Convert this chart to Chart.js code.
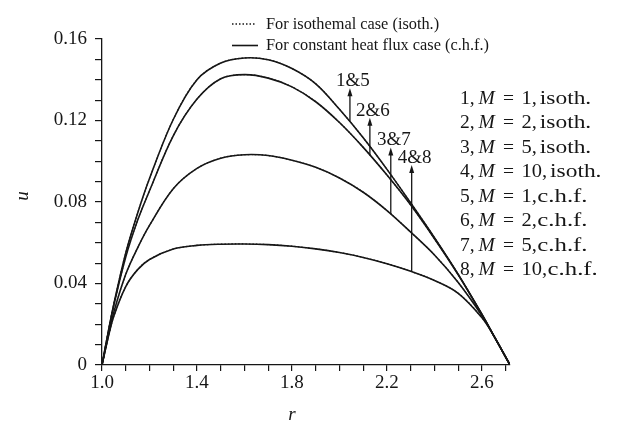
<!DOCTYPE html>
<html>
<head>
<meta charset="utf-8">
<script src="https://cdn.jsdelivr.net/npm/chart.js@4.4.1/dist/chart.umd.min.js"></script>
<style>
  html, body { margin: 0; padding: 0; background: #fff; }
</style>
</head>
<body>
<canvas id="myChart" width="617" height="426"></canvas>
<script>
// radial position r (1 .. e) and velocity u for each Hartmann number
const rValues = [1.0, 1.025, 1.05, 1.1, 1.15, 1.2, 1.3, 1.4, 1.5, 1.6, 1.7, 1.8, 1.9, 2.0, 2.1, 2.2, 2.3, 2.4, 2.5, 2.6, 2.65, 2.718];
const uM1 = [0, 0.0155, 0.030, 0.055, 0.0745, 0.0915, 0.1205, 0.1400, 0.1482, 0.1507, 0.1498, 0.1455, 0.1380, 0.1255, 0.1115, 0.0960, 0.0795, 0.0625, 0.0445, 0.0248, 0.0143, 0];
const uM2 = [0, 0.0152, 0.0295, 0.053, 0.071, 0.0855, 0.1125, 0.1305, 0.1405, 0.1425, 0.1408, 0.1365, 0.1292, 0.1190, 0.1068, 0.0932, 0.0785, 0.0620, 0.0443, 0.0248, 0.0143, 0];
const uM5 = [0, 0.0135, 0.026, 0.0445, 0.0575, 0.0685, 0.0865, 0.0965, 0.1015, 0.1032, 0.1028, 0.1005, 0.0970, 0.0918, 0.0848, 0.0758, 0.0652, 0.0540, 0.0405, 0.0242, 0.0143, 0];
const uM10 = [0, 0.0130, 0.0240, 0.0385, 0.0468, 0.0518, 0.0569, 0.0587, 0.0593, 0.0594, 0.0591, 0.0583, 0.0570, 0.0552, 0.0528, 0.0497, 0.0460, 0.0415, 0.0352, 0.0232, 0.0143, 0];

const hartmann = [1, 2, 5, 10];
const seriesU = [uM1, uM2, uM5, uM10];
const caseNames = ['isoth.', 'c.h.f.'];

const xTickLabels = ['1.0', '1.4', '1.8', '2.2', '2.6'];
const yTickLabels = ['0', '0.04', '0.08', '0.12', '0.16'];

// arrows pointing at each pair of curves
const arrowLabels = ['1&5', '2&6', '3&7', '4&8'];
const arrowR = [2.044, 2.128, 2.216, 2.304];
const arrowTopU = [0.1358, 0.1214, 0.1068, 0.0982];

const serif = "'Liberation Serif', 'Times New Roman', serif";
const ink = '#161616';

function valueAt(series, r) {
  for (let i = 1; i < rValues.length; i++) {
    if (r <= rValues[i]) {
      const t = (r - rValues[i - 1]) / (rValues[i] - rValues[i - 1]);
      return series[i - 1] + t * (series[i] - series[i - 1]);
    }
  }
  return series[series.length - 1];
}

const datasets = [];
seriesU.forEach((u, i) => {
  datasets.push({
    label: (i + 5) + ', M = ' + hartmann[i] + ', ' + caseNames[1],
    data: rValues.map((r, k) => ({ x: r, y: u[k] })),
    borderColor: ink,
    borderWidth: 1.6
  });
  datasets.push({
    label: (i + 1) + ', M = ' + hartmann[i] + ', ' + caseNames[0],
    data: rValues.map((r, k) => ({ x: r, y: u[k] })),
    borderColor: ink,
    borderWidth: 1.2,
    borderDash: [1.5, 2]
  });
});

// text drawn wider than the font, as in the original figure
function wideText(ctx, text, x, y, sx) {
  ctx.save();
  ctx.translate(x, y);
  ctx.scale(sx, 1);
  ctx.fillText(text, 0, 0);
  ctx.restore();
  return ctx.measureText(text).width * sx;
}

const annotations = {
  id: 'annotations',
  afterDraw(chart) {
    const { ctx, scales: { x, y } } = chart;
    ctx.save();
    ctx.fillStyle = ink;
    ctx.strokeStyle = ink;

    // arrows + labels
    arrowLabels.forEach((label, i) => {
      const px = x.getPixelForValue(arrowR[i]);
      const yBase = y.getPixelForValue(valueAt(seriesU[i], arrowR[i]));
      const yTip = y.getPixelForValue(arrowTopU[i]);
      ctx.lineWidth = 1.3;
      ctx.beginPath();
      ctx.moveTo(px, yBase);
      ctx.lineTo(px, yTip + 6);
      ctx.stroke();
      ctx.beginPath();
      ctx.moveTo(px, yTip);
      ctx.lineTo(px - 2.5, yTip + 8);
      ctx.lineTo(px + 2.5, yTip + 8);
      ctx.closePath();
      ctx.fill();
      ctx.font = '19px ' + serif;
      ctx.textAlign = 'center';
      ctx.textBaseline = 'alphabetic';
      ctx.fillText(label, px + 3, yTip - 2);
    });

    // axis titles
    ctx.font = 'italic 19px ' + serif;
    ctx.textAlign = 'center';
    ctx.textBaseline = 'middle';
    ctx.fillText('r', 292, 415);
    ctx.save();
    ctx.translate(23, 196);
    ctx.rotate(-Math.PI / 2);
    ctx.fillText('u', 0, 0);
    ctx.restore();

    // top legend: line styles
    ctx.textAlign = 'left';
    ctx.textBaseline = 'alphabetic';
    ctx.lineWidth = 1.4;
    ctx.setLineDash([1.5, 2]);
    ctx.beginPath();
    ctx.moveTo(232, 24);
    ctx.lineTo(256, 24);
    ctx.stroke();
    ctx.setLineDash([]);
    ctx.lineWidth = 1.6;
    ctx.beginPath();
    ctx.moveTo(232, 45.5);
    ctx.lineTo(258, 45.5);
    ctx.stroke();
    ctx.font = '17px ' + serif;
    wideText(ctx, 'For isothemal case (isoth.)', 266, 29, 0.96);
    wideText(ctx, 'For constant heat flux case (c.h.f.)', 266, 49.5, 0.96);

    // right legend: curve numbers
    ctx.textBaseline = 'middle';
    for (let k = 0; k < 8; k++) {
      const m = hartmann[k % 4];
      const caseName = caseNames[k < 4 ? 0 : 1];
      const yy = 98.5 + k * 24.5;
      ctx.font = '19.5px ' + serif;
      ctx.fillText((k + 1) + ',', 460, yy);
      ctx.font = 'italic 19.5px ' + serif;
      ctx.fillText('M', 478.5, yy);
      ctx.font = '19.5px ' + serif;
      ctx.fillText('=', 503, yy);
      let xx = 521.5;
      xx += wideText(ctx, m + ',', xx, yy, 1.05);
      xx += k < 4 ? 3 : 0.5;
      wideText(ctx, caseName, xx, yy, k < 4 ? 1.2 : 1.27);
    }
    ctx.restore();
  }
};

const ctx = document.getElementById('myChart').getContext('2d');
const chart = new Chart(ctx, {
  type: 'line',
  data: { datasets: datasets },
  options: {
    responsive: false,
    animation: false,
    events: [],
    layout: { padding: { top: 39, right: 107, bottom: 0, left: 0 } },
    elements: {
      point: { radius: 0 },
      line: { tension: 0.35, fill: false }
    },
    plugins: {
      legend: { display: false },
      tooltip: { enabled: false }
    },
    scales: {
      x: {
        type: 'linear',
        min: 1,
        max: 2.718,
        border: { color: ink, width: 1.3 },
        grid: { drawOnChartArea: false, drawTicks: true, tickLength: 6, color: ink, lineWidth: 1.2 },
        ticks: {
          stepSize: 0.1,
          includeBounds: false,
          autoSkip: false,
          maxRotation: 0,
          padding: 1,
          color: ink,
          font: { family: serif, size: 19 },
          callback: (value) => xTickLabels.find(t => Math.abs(parseFloat(t) - value) < 1e-6) || ''
        },
        afterFit: (scale) => { scale.height = 61; }
      },
      y: {
        min: 0,
        max: 0.16,
        border: { color: ink, width: 1.3 },
        grid: { drawOnChartArea: false, drawTicks: true, tickLength: 7, color: ink, lineWidth: 1.2 },
        ticks: {
          stepSize: 0.01,
          autoSkip: false,
          padding: 8,
          color: ink,
          font: { family: serif, size: 19 },
          callback: (value) => yTickLabels.find(t => Math.abs(parseFloat(t) - value) < 1e-6) || ''
        },
        afterFit: (scale) => { scale.width = 102; }
      }
    }
  },
  plugins: [annotations]
});
</script>
</body>
</html>
